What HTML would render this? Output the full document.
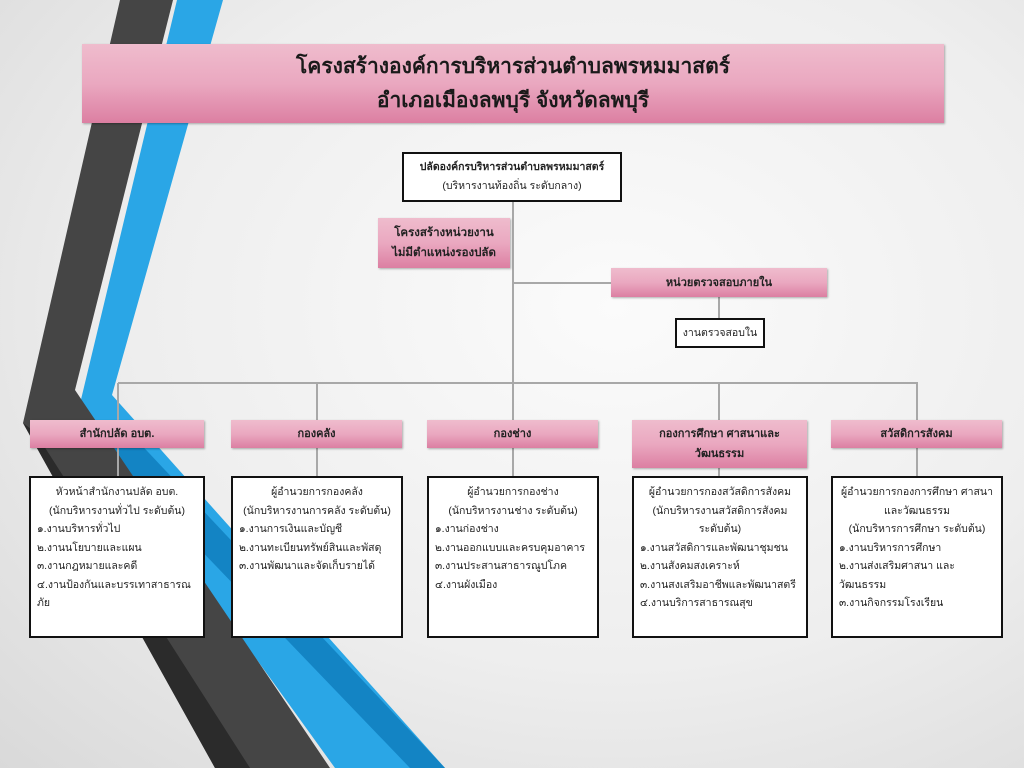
<!DOCTYPE html>
<html><head><meta charset="utf-8">
<style>
body{margin:0;width:1024px;height:768px;overflow:hidden;position:relative;
background:radial-gradient(ellipse at 60% 40%,#fbfbfb 0%,#eeeeee 55%,#d9d9d9 100%);
font-family:"Liberation Sans","DejaVu Sans",sans-serif;color:#222}
.a{position:absolute;box-sizing:border-box}
.pink{background:linear-gradient(#efbccd,#eaa8c0 50%,#dc7fa2);box-shadow:1px 1px 2px rgba(0,0,0,.3);display:flex;align-items:center;justify-content:center;text-align:center;font-weight:bold;font-size:11px;line-height:18px}
.box{background:#fff;border:2px solid #111;font-size:10.5px;line-height:18.5px;padding:5px 6px}
.box .c{text-align:center}
.l{position:absolute;background:#a8a8a8}
</style></head><body>
<svg class="a" style="left:0;top:0" width="1024" height="768">
<polygon points="177,0 223,0 112,395 445,768 335,768 78,412" fill="#2aa6e6"/>
<polygon points="95,440 118,420 445,768 410,768" fill="#1384c4"/>
<polygon points="120,0 173,0 75,390 330,768 215,768 23,423" fill="#454545"/>
<polygon points="23,423 35,432 250,768 215,768" fill="#2b2b2b"/>
</svg>
<div class="a pink" style="left:82px;top:44px;width:862px;height:79px;font-size:21px;line-height:34px;font-weight:bold;color:#1a1a1a">โครงสร้างองค์การบริหารส่วนตำบลพรหมมาสตร์<br>อำเภอเมืองลพบุรี จังหวัดลพบุรี</div>

<div class="l" style="left:512px;top:201px;width:2px;height:182px"></div>
<div class="l" style="left:513px;top:282px;width:98px;height:2px"></div>
<div class="l" style="left:718px;top:297px;width:2px;height:22px"></div>
<div class="l" style="left:118px;top:382px;width:800px;height:2px"></div>
<div class="l" style="left:117px;top:383px;width:2px;height:93px"></div>
<div class="l" style="left:316px;top:383px;width:2px;height:93px"></div>
<div class="l" style="left:512px;top:383px;width:2px;height:93px"></div>
<div class="l" style="left:718px;top:383px;width:2px;height:93px"></div>
<div class="l" style="left:916px;top:383px;width:2px;height:93px"></div>

<div class="a box" style="left:402px;top:152px;width:220px;height:50px;text-align:center;padding:4px 2px;line-height:19px"><b>ปลัดองค์กรบริหารส่วนตำบลพรหมมาสตร์</b><br>(บริหารงานท้องถิ่น ระดับกลาง)</div>
<div class="a pink" style="left:378px;top:218px;width:132px;height:50px;font-size:11.5px;line-height:20px">โครงสร้างหน่วยงาน<br>ไม่มีตำแหน่งรองปลัด</div>
<div class="a pink" style="left:611px;top:268px;width:216px;height:29px">หน่วยตรวจสอบภายใน</div>
<div class="a box" style="left:675px;top:318px;width:90px;height:30px;text-align:center;padding:3px 0;line-height:20px">งานตรวจสอบใน</div>

<div class="a pink" style="left:30px;top:420px;width:174px;height:28px">สำนักปลัด อบต.</div>
<div class="a pink" style="left:231px;top:420px;width:171px;height:28px">กองคลัง</div>
<div class="a pink" style="left:427px;top:420px;width:171px;height:28px">กองช่าง</div>
<div class="a pink" style="left:632px;top:420px;width:175px;height:48px;line-height:20px">กองการศึกษา ศาสนาและ<br>วัฒนธรรม</div>
<div class="a pink" style="left:831px;top:420px;width:171px;height:28px">สวัสดิการสังคม</div>

<div class="a box" style="left:29px;top:476px;width:176px;height:162px"><div class="c">หัวหน้าสำนักงานปลัด อบต.<br>(นักบริหารงานทั่วไป ระดับต้น)</div>๑.งานบริหารทั่วไป<br>๒.งานนโยบายและแผน<br>๓.งานกฎหมายและคดี<br>๔.งานป้องกันและบรรเทาสาธารณ<br>ภัย</div>
<div class="a box" style="left:231px;top:476px;width:172px;height:162px"><div class="c">ผู้อำนวยการกองคลัง<br>(นักบริหารงานการคลัง ระดับต้น)</div>๑.งานการเงินและบัญชี<br>๒.งานทะเบียนทรัพย์สินและพัสดุ<br>๓.งานพัฒนาและจัดเก็บรายได้</div>
<div class="a box" style="left:427px;top:476px;width:172px;height:162px"><div class="c">ผู้อำนวยการกองช่าง<br>(นักบริหารงานช่าง ระดับต้น)</div>๑.งานก่องช่าง<br>๒.งานออกแบบและครบคุมอาคาร<br>๓.งานประสานสาธารณูปโภค<br>๔.งานผังเมือง</div>
<div class="a box" style="left:632px;top:476px;width:176px;height:162px"><div class="c">ผู้อำนวยการกองสวัสดิการสังคม<br>(นักบริหารงานสวัสดิการสังคม<br>ระดับต้น)</div>๑.งานสวัสดิการและพัฒนาชุมชน<br>๒.งานสังคมสงเคราะห์<br>๓.งานสงเสริมอาชีพและพัฒนาสตรี<br>๔.งานบริการสาธารณสุข</div>
<div class="a box" style="left:831px;top:476px;width:172px;height:162px"><div class="c">ผู้อำนวยการกองการศึกษา ศาสนา<br>และวัฒนธรรม<br>(นักบริหารการศึกษา ระดับต้น)</div>๑.งานบริหารการศึกษา<br>๒.งานส่งเสริมศาสนา และ<br>วัฒนธรรม<br>๓.งานกิจกรรมโรงเรียน</div>
</body></html>
